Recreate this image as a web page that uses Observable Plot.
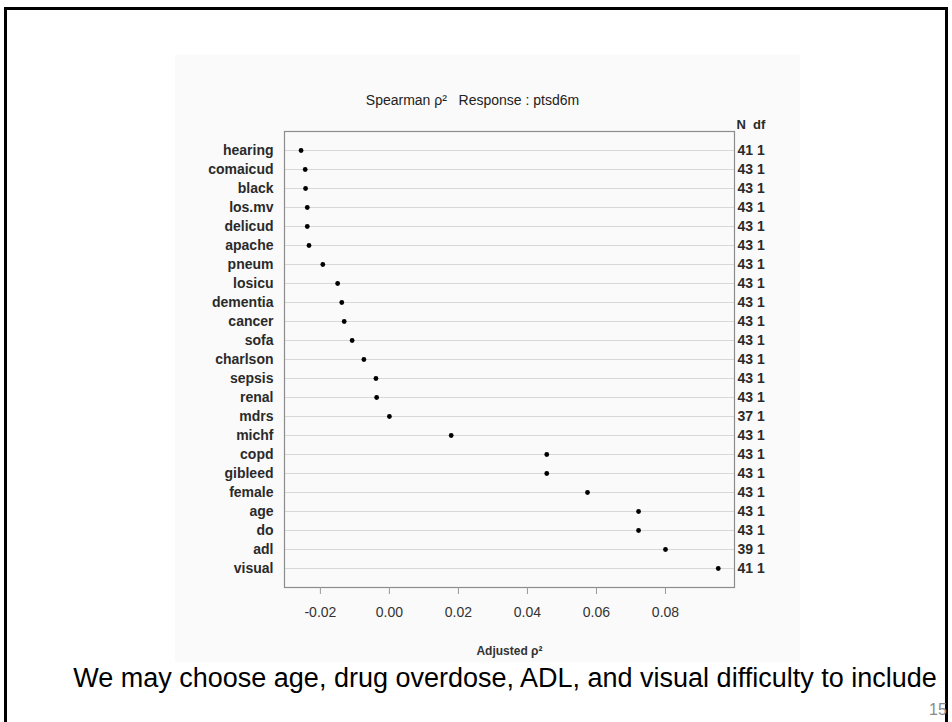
<!DOCTYPE html>
<html>
<head>
<meta charset="utf-8">
<script src="https://cdn.jsdelivr.net/npm/d3@7"></script>
<script src="https://cdn.jsdelivr.net/npm/@observablehq/plot@0.6"></script>
<style>
  html, body { margin: 0; padding: 0; background: #fff; }
  #page { position: relative; width: 952px; height: 722px; overflow: hidden; font-family: "Liberation Sans", Arial, sans-serif; }
  #border { position: absolute; left: 4px; top: 7px; width: 938px; height: 760px; border: 3px solid #000; box-sizing: content-box; }
  #chart { position: absolute; left: 175px; top: 55px; }
  #caption { position: absolute; left: 0; width: 1010px; top: 663px; text-align: center; font-size: 27px; color: #000; white-space: nowrap; }
  #pagenum { position: absolute; left: 929px; top: 701px; font-size: 16px; color: #8a8a8a; }
</style>
</head>
<body>
<div id="page">
  <div id="border"></div>
  <div id="chart"></div>
  <div id="caption">We may choose age, drug overdose, ADL, and visual difficulty to include</div>
  <div id="pagenum">15</div>
</div>
<script>
const names = ["hearing","comaicud","black","los.mv","delicud","apache","pneum","losicu","dementia","cancer","sofa","charlson","sepsis","renal","mdrs","michf","copd","gibleed","female","age","do","adl","visual"];
const rho2 = [-0.0256,-0.0244,-0.0243,-0.0238,-0.0238,-0.0233,-0.0193,-0.0150,-0.0138,-0.0131,-0.0108,-0.0074,-0.0039,-0.0037,0.0000,0.0179,0.0456,0.0456,0.0574,0.0722,0.0722,0.0800,0.0953];
const nObs = [41,43,43,43,43,43,43,43,43,43,43,43,43,43,37,43,43,43,43,43,43,39,41];
const dfs = [1,1,1,1,1,1,1,1,1,1,1,1,1,1,1,1,1,1,1,1,1,1,1];
const xTicks = [-0.02, 0.00, 0.02, 0.04, 0.06, 0.08];
const titleText = "Spearman ρ²\u00a0\u00a0\u00a0Response\u00a0: ptsd6m";
const xTitle = "Adjusted ρ²";
const colHeader = "N\u00a0\u00a0df";

const data = names.map((name, i) => ({name, v: rho2[i], n: nObs[i], df: dfs[i]}));

const chart = Plot.plot({
  width: 625,
  height: 607,
  marginLeft: 109,
  marginRight: 66,
  marginTop: 76,
  marginBottom: 75,
  style: {background: "#fafafa", fontFamily: "Liberation Sans, Arial, sans-serif", overflow: "visible"},
  x: {domain: [-0.0304, 0.1]},
  y: {type: "point", domain: names, padding: 1},
  marks: [
    Plot.ruleY(names, {y: d => d, stroke: "#d8d8d8", strokeWidth: 1}),
    Plot.frame({stroke: "#8c8c8c", strokeWidth: 1.2}),
    Plot.dot(data, {x: "v", y: "name", r: 2.4, fill: "#000", stroke: null}),
    Plot.axisX({ticks: xTicks, tickFormat: d => d.toFixed(2), tickSize: 7, tickPadding: 13, fontSize: 14, fill: "#333", stroke: "#999", label: null}),
    Plot.axisY({tickSize: 0, tickPadding: 11, fontSize: 14, fontWeight: "bold", fill: "#2a2a2a", label: null}),
    Plot.text(data, {y: "name", frameAnchor: "right", text: d => `${d.n} ${d.df}`, textAnchor: "start", dx: 3, fontSize: 14, fontWeight: "bold", fill: "#2a2a2a"}),
    Plot.text([colHeader], {frameAnchor: "top-right", textAnchor: "start", dx: 2, dy: -12, fontSize: 13, fontWeight: "bold", fill: "#2a2a2a"}),
    Plot.text([titleText], {frameAnchor: "top", dx: -37, dy: -36, fontSize: 14, fill: "#222"}),
    Plot.text([xTitle], {frameAnchor: "bottom", dx: 0, dy: 67, fontSize: 12, fontWeight: "bold", fill: "#333"})
  ]
});
document.getElementById("chart").appendChild(chart);
</script>
</body>
</html>
